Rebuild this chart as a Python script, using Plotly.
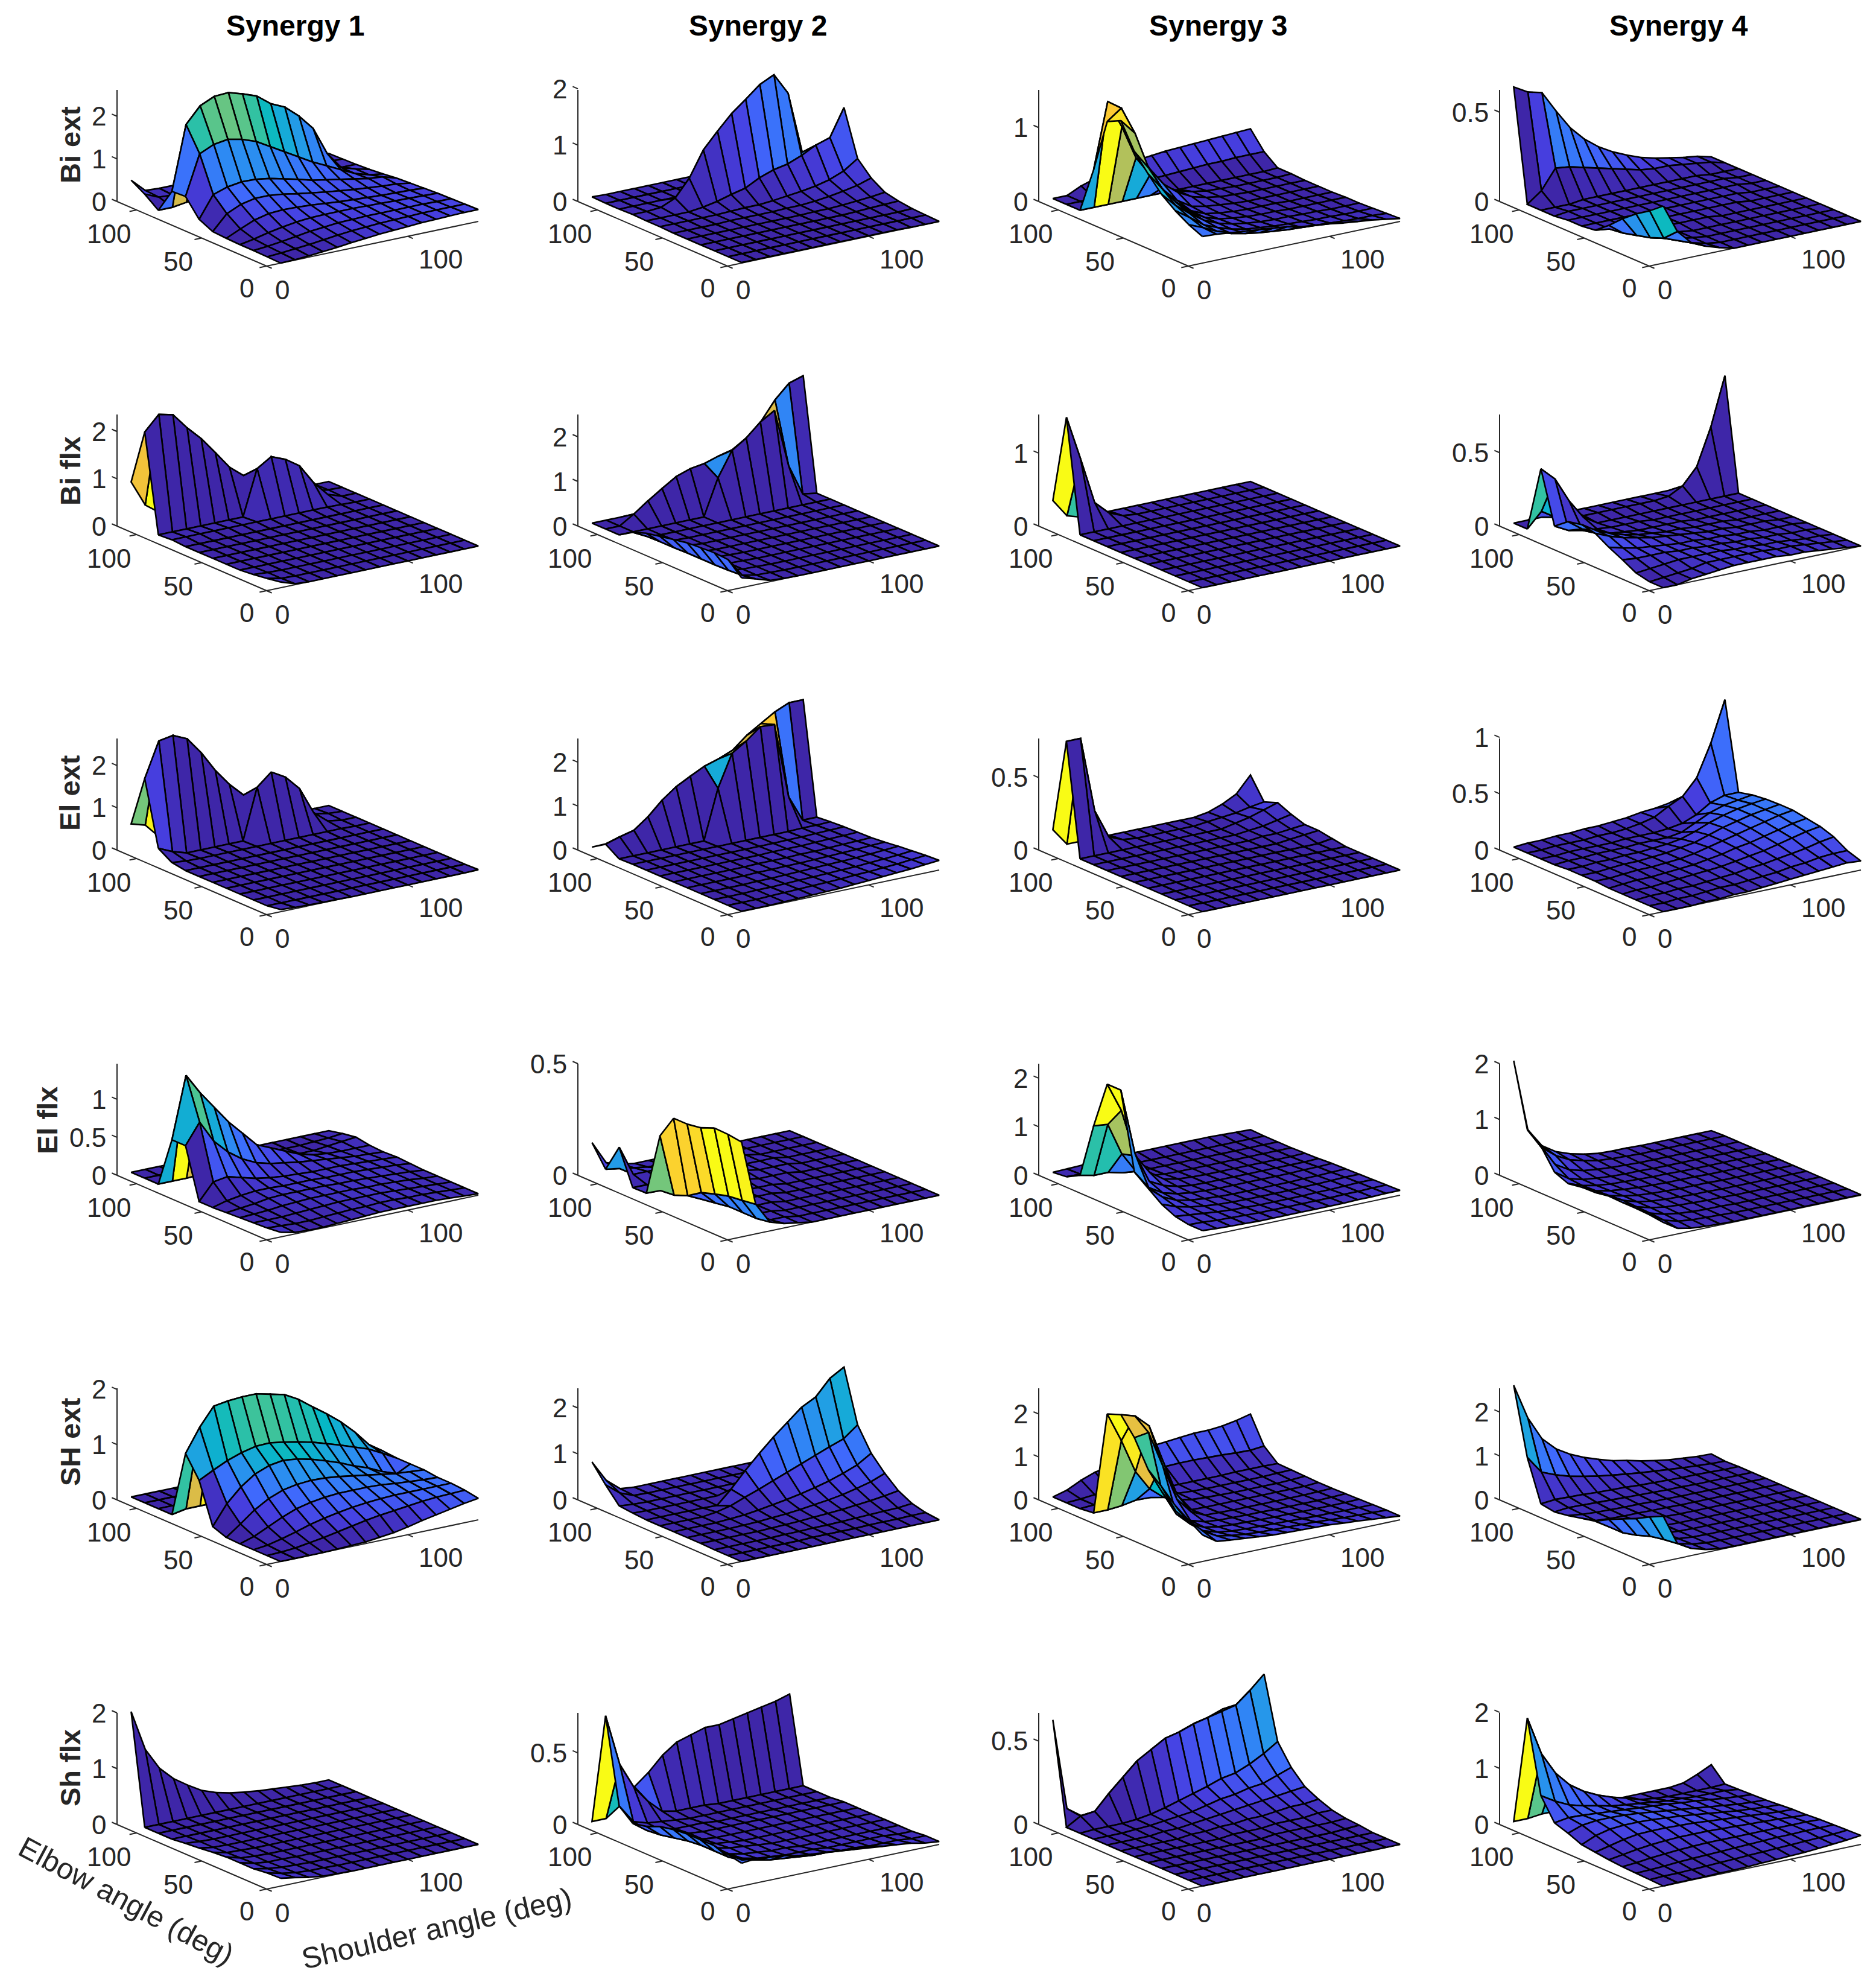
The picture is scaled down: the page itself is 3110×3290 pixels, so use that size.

import numpy as np, plotly.graph_objects as go
from plotly.colors import sample_colorscale
PAGE_MARGIN=8
W,H=3110-PAGE_MARGIN,3290-PAGE_MARGIN
shoulder=[10*(i+1) for i in range(15)]
elbow=[115*j/11 for j in range(12)]
O=[0]*15
z11=[[0,.01,.03,.06,.09,.13,.16,.19,.21,.23,.25,.26,.27,.28,.28],[.01,.03,.06,.09,.13,.17,.2,.22,.24,.25,.26,.27,.27,.27,.27],[.02,.05,.09,.14,.19,.22,.25,.26,.27,.27,.27,.27,.27,.26,.26],[.02,.08,.16,.22,.27,.3,.31,.31,.31,.3,.29,.28,.27,.26,.25],[.03,.18,.32,.4,.42,.41,.39,.36,.33,.31,.29,.27,.26,.25,.23],[.05,.4,.55,.62,.62,.58,.52,.47,.42,.38,.34,.31,.28,.26,.21],[.2,.71,.82,.87,.86,.81,.73,.65,.56,.5,.44,.38,.32,.29,.19],[.6,1.53,1.68,1.73,1.66,1.54,1.35,1.16,.97,.78,.62,.46,.3,.2,.15],[.58,2.08,2.45,2.6,2.62,2.52,2.4,2.15,2.0,1.72,1.36,.7,.3,.2,.12],[0,0,.05,.08,.08,.08,.08,.08,.08,.09,.1,.1,.1,.1,.1],[.24,.1,.08,.08,.09,.09,.09,.09,.09,.09,.09,.09,.09,.09,.09],[.43,.12,.1,.1,.1,.1,.1,.1,.1,.09,.09,.09,.09,.09,.08]]
z12=[[.01,.01,.01,.01,.01,.01,.01,.01,.01,.01,.01,.01,0,0,0],[.01,.01,.01,.01,.01,.01,.01,.01,.01,.01,.01,.01,.01,.01,.01],[.01,.01,.01,.01,.01,.01,.01,.01,.01,.01,.01,.01,.01,.01,.02],[.01,.01,.01,.01,.01,.01,.01,.01,.01,.01,.01,.02,.03,.04,.05],[.01,.01,.01,.01,.01,.01,.01,.01,.01,.02,.02,.03,.05,.07,.1],[.01,.01,.01,.01,.02,.02,.02,.02,.03,.03,.05,.08,.12,.17,.25],[.02,.02,.02,.02,.02,.03,.04,.04,.06,.09,.12,.16,.22,.32,.49],[.02,.02,.02,.02,.05,.1,.17,.23,.36,.45,.5,.6,.73,.81,1.29],[.03,.03,.05,.16,.46,.91,1.19,1.45,1.65,1.86,1.98,1.6,.5,.05,.02],[.02]*15,[.02]*15,[.03,.02,.02,.02,.02,.02,.02,.02,.02,.02,.02,.02,.02,.02,.02]]
z13=[[.36,.35,.33,.31,.29,.27,.25,.21,.19,.17,.14,.12,.1,.07,.04],[.44,.36,.27,.2,.16,.13,.11,.09,.08,.07,.06,.05,.04,.04,.03],[.55,.42,.28,.2,.14,.1,.08,.06,.05,.04,.03,.03,.02,.02,.02],[.69,.5,.35,.22,.14,.09,.06,.04,.03,.03,.02,.02,.01,.01,.01],[.89,.65,.42,.25,.14,.08,.05,.03,.02,.02,.01,.01,.01,.01,.01],[1.11,.85,.52,.3,.15,.07,.04,.02,.01,.01,.01,0,0,0,0],[1.45,1.24,.65,.39,.21,.09,.05,.03,.01,0,0,0,0,0,0],[1.36,1.5,.95,.6,.35,.2,.1,.05,.02,.01,0,0,0,0,0],[.63,1.51,1.13,.67,.4,.2,.1,.05,.02,.01,0,0,0,0,.01],[0,0,0,0,0,0,0,0,0,0,0,0,0,0,.01],[0,0,0,.03,.06,.09,.1,.11,.12,.13,.14,.14,.15,.15,.15],[0,0,.09,.15,.2,.24,.28,.3,.32,.33,.34,.35,.36,.37,.38]]
z14=[[.32,.16,.08,.045,.02,0,0,0,0,0,0,0,0,0,0],[.26,.09,.06,.03,.01,0,0,0,0,0,0,0,0,0,0],[.21,.06,.04,.02,.01,0,0,0,0,0,0,0,0,0,0],[.15,.04,.02,.01,.01,0,0,0,0,0,0,0,0,0,0],[.08,.02,.01,.01,.01,.01,.01,.01,0,0,0,0,0,0,0],[.02,.01,.01,.01,.01,.01,.01,.01,.01,.01,.01,0,0,0,0],[.01,.01,.01,.01,.01,.01,.01,.01,.01,.01,.01,.01,0,0,0],[.01,.01,.01,.01,.01,.01,.01,.01,.01,.01,.01,.01,.01,0,0],[0,.01,.01,.01,.01,.01,.01,.01,.01,.01,.01,.01,.01,0,0],[0,0,0,.01,.01,.01,.01,.01,.01,.01,.01,.01,0,0,0],[0,.06,.17,.16,.14,.12,.1,.08,.06,.05,.05,.04,.03,.02,0],[.625,.58,.56,.44,.33,.25,.19,.145,.11,.08,.06,.045,.03,.02,0]]
z21=[[.12,.02,0,0,0,0,0,0,0,0,0,0,0,0,0],[.07,.01,0,0,0,0,0,0,0,0,0,0,0,0,0],[.03,.01,0,0,0,0,0,0,0,0,0,0,0,0,0],O,O,O,O,O,[.02,.02,.02,.02,.02,.02,.02,.02,.02,.02,.02,.02,.01,0,0],[0,0,0,0,0,0,0,.96,1.15,1.03,.83,.41,.1,0,0],[2.05,2.36,2.29,1.95,1.66,1.3,.93,.69,.55,.45,.3,.15,.05,.01,0],[.87,.32,.1,.05,.02,0,0,0,0,0,0,0,0,0,0]]
z22=[[.22,.13,.03,.01,0,0,0,0,0,0,0,0,0,0,0],[.5,.08,.02,.01,0,0,0,0,0,0,0,0,0,0,0],[.52,.06,.02,.01,0,0,0,0,0,0,0,0,0,0,0],[.5,.05,.02,.01,0,0,0,0,0,0,0,0,0,0,0],[.48,.05,.02,.01,0,0,0,0,0,0,0,0,0,0,0],[.42,.05,.02,0,0,0,0,0,0,0,0,0,0,0,0],[.36,.04,.02,0,0,0,0,0,0,0,0,0,0,0,0],[.3,.04,.01,0,0,0,0,0,0,0,0,0,0,0,0],[.19,.03,0,0,0,0,0,0,0,0,0,0,0,0,0],[0,0,0,0,0,0,0,.81,1.36,1.57,1.86,2.05,.75,.05,0],[0,0,.2,.43,.64,.84,.95,1.0,1.1,1.18,1.37,1.67,2.09,2.4,2.5],O]
z23=[O,O,O,O,O,O,O,O,O,O,[1.53,.92,.28,.1,.02,0,0,0,0,0,0,0,0,0,0],[.31,.06,0,0,0,0,0,0,0,0,0,0,0,0,0]]
z24=[[0,0,.02,.03,.04,.05,.05,.05,.05,.04,.04,.03,.02,.01,0],[0,.01,.02,.03,.05,.05,.05,.05,.05,.04,.04,.03,.02,.01,0],[.02,.03,.04,.05,.05,.05,.05,.04,.04,.03,.03,.02,.01,.01,0],[.07,.06,.06,.06,.05,.05,.04,.04,.03,.03,.02,.02,.01,.01,0],[.115,.09,.07,.06,.05,.04,.04,.03,.03,.02,.02,.01,.01,.01,0],[.17,.13,.1,.08,.06,.05,.04,.03,.02,.02,.01,.01,.01,0,0],[.19,.13,.09,.06,.04,.03,.02,.02,.01,.01,.01,0,0,0,0],[.17,.1,.05,.03,.02,.01,.01,.01,.01,0,0,0,0,0,0],[.1,.05,.03,.02,.01,.01,.01,0,0,0,0,0,0,0,0],[.45,.36,.19,.06,0,0,0,0,0,0,0,0,0,0,0],[0,.1,.04,.02,.01,.01,.01,.01,.01,.01,.02,.07,.18,.43,.76],[0,0,0,0,0,0,0,0,0,0,0,0,0,0,0]]
z31=[[.05,.03,.02,.01,.01,0,0,0,0,0,0,0,0,0,.01],O,O,O,O,O,O,[0,0,0,0,0,0,0,0,0,0,0,0,0,0,0],[.05,.02,.01,.01,.01,.01,.01,.01,.01,.01,.01,.01,.01,0,0],[.25,.1,0,0,0,0,0,1.2,1.49,1.3,.96,.32,.05,0,0],[1.76,2.58,2.64,2.49,2.09,1.6,1.2,.88,.7,.55,.35,.2,.08,.02,0],[.55,.45,.1,.03,.01,0,0,0,0,0,0,0,0,0,0]]
z32=[[.01,.01,.01,.02,.03,.04,.05,.06,.08,.1,.12,.14,.16,.19,.22],[.01,.01,.01,.02,.03,.04,.05,.06,.07,.09,.1,.12,.14,.17,.2],[.01,.01,.01,.02,.02,.03,.04,.05,.06,.07,.08,.1,.12,.14,.17],[.01,.01,.01,.01,.02,.02,.03,.04,.05,.06,.07,.08,.1,.12,.14],[.01,.01,.01,.01,.01,.02,.02,.03,.03,.04,.05,.06,.07,.09,.1],[.01,.01,.01,.01,.01,.01,.02,.02,.02,.03,.03,.04,.05,.06,.07],[.01,.01,.01,.01,.01,.01,.01,.01,.02,.02,.02,.03,.04,.05,.06],[.01,.01,.01,.01,.01,.01,.01,.01,.01,.01,.02,.02,.03,.04,.05],[.01,.01,.01,.01,.01,.01,.01,.01,.01,.01,.01,.01,.02,.02,.03],[0,0,0,0,0,0,0,1.13,1.86,2.07,2.33,2.31,.6,0,0],[.2,.3,.38,.62,.93,1.17,1.34,1.5,1.6,1.73,2.0,2.2,2.4,2.54,2.54],[0,.01,.01,.01,0,0,0,0,0,0,0,0,0,0,0]]
z33=[O,O,O,O,O,[0,0,0,0,0,0,0,0,0,0,0,0,0,0,.015],[0,0,0,0,0,0,0,0,0,0,0,0,.01,.02,.03],[0,0,0,0,0,0,0,0,0,0,0,.01,.01,.02,.03],[0,0,0,0,0,0,0,0,0,0,0,.01,.02,.04,.06],[0,0,0,0,0,0,0,0,0,0,0,.02,.04,.07,.1],[.77,.77,.25,.05,.01,0,0,0,0,0,.01,.02,.03,.05,.065],[.12,0,0,0,0,0,0,0,0,0,0,.015,.05,.1,.21]]
z34=[[0,0,0,.01,.01,.02,.02,.03,.04,.05,.06,.07,.08,.09,.08],[0,0,.01,.01,.02,.03,.03,.04,.05,.06,.08,.09,.11,.12,.12],[0,.01,.01,.02,.02,.03,.04,.05,.07,.08,.1,.12,.14,.17,.19],[0,.01,.01,.02,.03,.04,.05,.06,.08,.1,.12,.15,.18,.21,.23],[0,.01,.02,.02,.03,.04,.05,.07,.09,.12,.14,.17,.2,.23,.25],[.01,.01,.02,.03,.03,.04,.05,.07,.1,.13,.16,.19,.22,.25,.27],[.01,.01,.02,.03,.03,.04,.05,.07,.09,.13,.17,.2,.23,.25,.27],[.01,.01,.02,.02,.03,.03,.04,.05,.07,.11,.16,.2,.23,.25,.265],[0,.01,.01,.02,.02,.02,.03,.03,.03,.05,.11,.17,.21,.23,.25],[0,0,.01,.01,.01,.01,.02,.02,.02,.03,.05,.1,.18,.22,.22],[0,0,.01,.01,.01,.02,.02,.03,.05,.08,.15,.21,.35,.63,.99],[0,.01,.01,.02,.02,.03,.03,.04,.05,.07,.08,.1,.13,.22,.28]]
z41=[[.06,.02,.01,.01,.02,.03,.04,.05,.05,.05,.05,.05,.04,.03,.02],[.04,.03,.02,.02,.03,.04,.05,.05,.06,.06,.05,.05,.04,.03,.02],[.03,.03,.03,.04,.05,.06,.07,.07,.07,.07,.06,.05,.04,.03,.02],[.02,.03,.04,.06,.07,.08,.08,.08,.08,.07,.07,.06,.05,.03,.02],[.01,.03,.05,.08,.09,.09,.09,.09,.08,.08,.07,.06,.05,.04,.02],[0,.05,.08,.1,.1,.09,.09,.09,.08,.08,.08,.07,.06,.05,.03],[0,.22,.25,.2,.15,.12,.1,.09,.08,.08,.08,.07,.06,.05,.04],[.66,.93,.64,.46,.33,.24,.19,.16,.13,.11,.09,.07,.05,.04,.03],[.66,1.47,1.2,.97,.74,.55,.36,.28,.2,.12,.07,.05,.04,.04,.04],[0,0,0,.01,.01,.01,.01,.01,.01,.01,.01,.01,.03,.05,.07],[0,0,0,0,0,0,0,0,0,0,0,0,.01,.02,.04],[0,0,0,0,0,0,0,0,0,0,0,0,0,0,0]]
z42=[[.425,.133,.04,.02,.01,0,0,0,0,0,0,0,0,0,0],[.433,.124,.03,.01,.01,0,0,0,0,0,0,0,0,0,0],[.435,.117,.03,.01,.01,0,0,0,0,0,0,0,0,0,0],[.41,.1,.03,.01,.01,.01,0,0,0,0,0,0,0,0,0],[.4,.08,.02,.01,.01,.01,.01,0,0,0,0,0,0,0,0],[.4,.04,.01,.01,.01,.01,.01,.01,0,0,0,0,0,0,0],[.295,.016,.01,.01,.02,.02,.02,.01,.01,.01,0,0,0,0,0],[.012,.01,.01,.02,.03,.03,.03,.02,.01,.01,.01,0,0,0,0],[.01,.01,.02,.03,.04,.04,.03,.02,.01,.01,.01,0,0,0,0],[.165,.03,.03,.03,.03,.03,.02,.01,.01,.01,0,0,0,0,0],[.04,.03,.02,.01,.01,.01,.01,.01,0,0,0,0,0,0,0],[.133,.03,.01,0,0,0,0,0,0,0,0,0,0,0,0]]
z43=[[.13,.11,.1,.09,.08,.08,.08,.08,.08,.08,.08,.09,.09,.1,.1],[.13,.12,.1,.09,.08,.07,.07,.07,.07,.07,.07,.08,.08,.09,.09],[.18,.15,.12,.09,.07,.06,.05,.05,.05,.05,.06,.06,.07,.08,.08],[.31,.2,.13,.09,.06,.05,.04,.04,.04,.04,.05,.05,.06,.07,.07],[.52,.28,.15,.09,.06,.04,.03,.03,.03,.03,.03,.04,.04,.05,.06],[.73,.35,.18,.1,.06,.04,.03,.03,.03,.03,.03,.03,.04,.04,.05],[2.3,.93,.3,.15,.07,.03,.02,.02,.02,.02,.02,.02,.02,.02,.03],[2.3,1.7,.7,.3,.1,.04,.02,.01,.01,.01,.01,.01,.01,.01,.02],[1.32,1.29,.62,.2,.05,.02,.01,.01,.01,.01,.01,.01,.01,.01,.01],[.18,.12,.12,.05,.02,.01,.01,.01,.01,.01,.01,.01,.01,.01,.01],[.03,.02,.02,.01,.01,.01,.01,.01,.01,.01,.01,.01,.01,.01,.01],[0,.01,.02,.03,.04,.05,.05,.05,.05,.05,.05,.05,.04,.03,.02]]
z44=[[.26,.1,.05,.03,.02,.01,.01,.01,.01,.01,.01,.01,.01,.01,.01],[.29,.14,.07,.04,.03,.02,.01,.01,.01,.01,.01,.01,.01,.01,.01],[.3,.16,.09,.05,.03,.02,.02,.01,.01,.01,.01,.01,.01,.01,.01],[.3,.17,.1,.06,.04,.03,.02,.02,.01,.01,.01,.01,.01,.01,.01],[.31,.18,.1,.06,.04,.03,.02,.02,.01,.01,.01,.01,.01,.01,.01],[.27,.16,.1,.06,.04,.03,.02,.02,.02,.01,.01,.01,.01,.01,.01],[.26,.14,.09,.06,.04,.03,.02,.02,.02,.01,.01,.01,.01,.01,.01],[.22,.13,.08,.05,.04,.03,.02,.02,.01,.01,.01,.01,.01,.01,.01],[.32,.15,.08,.05,.03,.02,.02,.01,.01,.01,.01,.01,.01,.01,.01],[.68,.3,.15,.08,.05,.03,.02,.01,.01,.01,.01,.01,.01,.01,.01],[.87,.5,.3,.17,.1,.05,.03,.02,.01,.01,.01,.01,.01,.01,.01],[2.0,.71,.37,.21,.12,.06,.02,.01,.01,0,0,0,0,0,0]]
z51=[[0,0,0,0,.01,.02,.03,.06,.09,.14,.2,.25,.3,.35,.39],[0,.01,.03,.07,.11,.16,.21,.26,.3,.33,.36,.39,.41,.42,.43],[0,.03,.09,.16,.24,.3,.35,.39,.42,.44,.45,.45,.45,.45,.45],[0,.08,.2,.32,.42,.48,.52,.54,.54,.54,.53,.5,.48,.46,.45],[.01,.2,.4,.55,.65,.7,.72,.71,.68,.64,.6,.56,.52,.5,.48],[.1,.46,.71,.89,.99,1.03,1.0,.94,.86,.77,.66,.57,.45,.35,.48],[.83,.96,1.08,1.17,1.23,1.24,1.2,1.15,1.09,1.01,.93,.84,.75,.62,.48],[1.21,1.63,1.96,2.0,2.02,2.02,1.96,1.9,1.76,1.57,1.39,1.19,.95,.67,.5],[0,.05,.05,.05,.05,.05,.05,.05,.05,.05,.05,.05,.05,.05,.05],[0]*15,[0]*15,[0]*15]
z52=[[0]*15,[0,0,0,0,0,0,.01,.01,.01,.01,.02,.02,.02,.03,.03],[0,0,0,0,0,.01,.01,.02,.02,.03,.04,.05,.06,.07,.1],[.01,.01,.01,.01,.01,.02,.03,.04,.06,.08,.1,.13,.16,.2,.25],[.01,.01,.01,.01,.02,.03,.05,.07,.1,.14,.18,.23,.3,.38,.5],[.01,.01,.01,.01,.03,.05,.09,.14,.19,.25,.32,.4,.5,.62,.81],[.01,.01,.01,.01,.05,.12,.24,.35,.47,.59,.71,.83,.95,1.06,1.3],[.01,.01,.01,.01,.01,0,.29,.63,.94,1.23,1.49,1.75,1.91,2.25,2.43],[.03,.02,.02,.02,.02,.02,.02,.02,.02,.02,.02,.02,.02,.02,.02],[.06,.03,.02,.02,.02,.02,.02,.02,.02,.02,.02,.02,.02,.02,.02],[.39,.15,.03,.02,.02,.02,.02,.02,.02,.02,.02,.02,.02,.02,.02],[.76,.3,.05,.02,.02,.02,.02,.02,.02,.02,.02,.02,.02,.02,.02]]
z53=[[.62,.4,.36,.33,.3,.27,.26,.25,.24,.23,.2,.18,.15,.12,.09],[.82,.5,.32,.26,.22,.2,.19,.18,.17,.16,.14,.12,.11,.1,.09],[1.03,.55,.3,.2,.16,.14,.13,.12,.11,.1,.09,.09,.08,.08,.08],[1.33,.7,.33,.18,.12,.1,.09,.08,.07,.07,.06,.06,.06,.06,.07],[1.6,1.0,.42,.2,.1,.07,.06,.05,.05,.04,.04,.04,.04,.05,.06],[2.2,2.25,1.41,.56,.2,.05,.04,.03,.03,.03,.03,.03,.03,.04,.05],[2.6,2.5,2.2,1.3,.45,.04,.03,.03,.03,.03,.03,.03,.03,.03,.05],[2.48,1.79,1.0,.53,.26,.13,.07,.05,.04,.03,.03,.03,.03,.04,.06],[.04,.04,.07,.13,.12,.1,.08,.06,.05,.05,.05,.05,.05,.06,.07],[0,.02,.02,.03,.04,.06,.07,.08,.08,.08,.08,.09,.09,.09,.08],[0,.02,.05,.1,.17,.25,.32,.36,.37,.37,.36,.35,.33,.32,.35],[0,.09,.25,.37,.44,.55,.65,.7,.73,.76,.79,.79,.82,.88,.96]]
z54=[[1.03,.34,.16,.07,.02,.01,.01,.01,.01,.01,.01,.01,.01,.01,.01],[.88,.3,.14,.06,.02,.01,.01,.01,.01,.01,.01,.01,.01,.01,.01],[.71,.24,.11,.05,.02,.01,.01,.01,.01,.01,.01,.01,.01,.01,.01],[.57,.13,.07,.04,.02,.01,.01,.01,.01,.01,.01,.01,.01,.01,.01],[.42,.05,.04,.03,.02,.01,.01,.01,.01,.01,.01,.01,.01,.01,.01],[.25,.05,.03,.03,.02,.02,.01,.01,.01,.01,.01,.01,.01,.01,.01],[.18,.06,.04,.03,.03,.02,.02,.01,.01,.01,.01,.01,.01,.01,.01],[.11,.07,.05,.04,.03,.03,.02,.02,.01,.01,.01,.01,.01,.01,.01],[.06,.09,.08,.07,.06,.05,.04,.03,.02,.02,.01,.01,.01,.01,.01],[.11,.14,.13,.12,.1,.09,.08,.06,.05,.04,.03,.03,.02,.01,.01],[1.03,.63,.5,.4,.33,.27,.22,.18,.14,.11,.08,.05,.03,.01,0],[2.54,1.73,1.19,.89,.7,.56,.45,.35,.29,.21,.15,.1,.07,.04,.03]]
z61=[[.14,.1,.05,.02,.01,0,0,0,0,0,0,0,0,0,0],[.13,.07,.03,.01,.01,0,0,0,0,0,0,0,0,0,0],[.1,.05,.02,.01,0,0,0,0,0,0,0,0,0,0,0],[.1,.04,.01,.01,0,0,0,0,0,0,0,0,0,0,0],[.1,.03,.01,0,0,0,0,0,0,0,0,0,0,0,0],[.08,.02,.01,0,0,0,0,0,0,0,0,0,0,0,0],[.05,.01,0,0,0,0,0,0,0,0,0,0,0,0,0],[.03,.01,0,0,0,0,0,0,0,0,0,0,0,0,0],O,O,O,[1.97,1.24,.85,.61,.44,.29,.2,.14,.1,.07,.05,.03,.01,0,0]]
z62=[[.16,.17,.16,.15,.13,.12,.11,.1,.09,.08,.07,.06,.05,.03,.02],[.18,.12,.1,.08,.07,.06,.05,.05,.04,.04,.03,.03,.03,.02,.02],[.2,.1,.07,.05,.04,.03,.03,.03,.02,.02,.02,.02,.02,.01,.01],[.2,.1,.06,.04,.03,.02,.02,.01,.01,.01,.01,.01,.01,.01,.01],[.2,.1,.06,.04,.03,.02,.01,.01,.01,.01,.01,.01,.01,.01,.01],[.19,.09,.05,.03,.02,.01,.01,.01,.01,.01,.01,.01,.01,.01,.01],[.17,.07,.04,.02,.01,.01,.01,.01,.01,.01,.01,.01,.01,.01,.01],[.13,.05,.03,.02,.01,.01,.01,.01,.01,.01,.01,.01,.01,.01,.01],[.11,.04,.02,.01,.01,.01,0,0,0,0,0,0,0,0,0],[.19,.06,.03,.02,.01,0,0,0,0,0,0,0,0,0,0],[.78,.42,.24,.12,.03,.01,.01,.01,0,0,0,0,0,0,0],[0,0,.07,.18,.26,.36,.43,.46,.49,.49,.51,.53,.55,.57,.6]]
z63=[O,O,O,[0,0,0,0,0,0,0,0,0,0,0,0,0,.005,.01],[0,0,0,0,0,0,0,0,0,.01,.01,.01,.01,.01,.015],[0,0,0,0,0,0,0,.01,.01,.01,.02,.02,.02,.03,.03],[0,0,0,0,0,.01,.01,.02,.02,.03,.03,.04,.05,.05,.06],[0,0,0,0,.01,.01,.02,.03,.04,.05,.06,.07,.08,.09,.1],[0,0,0,.005,.01,.02,.03,.04,.06,.08,.09,.11,.12,.15,.18],[0,.005,.005,.005,.012,.025,.045,.07,.095,.12,.15,.165,.2,.245,.3],[0,.05,.06,.15,.23,.31,.36,.41,.43,.46,.48,.5,.52,.59,.67],[.61,.06,0,0,.1,.18,.25,.31,.35,.38,.41,.43,.46,.47,.5]]
z64=[[0,.01,.01,.01,.02,.02,.03,.04,.05,.06,.07,.09,.11,.13,.16],[.01,.02,.02,.03,.04,.05,.06,.07,.08,.09,.1,.11,.12,.13,.15],[.02,.03,.04,.06,.07,.08,.09,.1,.11,.12,.13,.13,.14,.14,.14],[.03,.05,.08,.1,.12,.13,.14,.14,.14,.14,.14,.14,.14,.14,.13],[.05,.09,.13,.16,.18,.19,.19,.19,.18,.17,.16,.15,.14,.12,.11],[.08,.14,.2,.24,.25,.25,.24,.23,.21,.19,.17,.15,.13,.11,.1],[.11,.22,.28,.3,.3,.29,.27,.25,.22,.19,.16,.13,.11,.09,.08],[.21,.3,.33,.33,.32,.3,.27,.24,.21,.18,.15,.12,.09,.07,.06],[.29,.33,.32,.3,.28,.26,.24,.22,.2,.17,.15,.12,.09,.07,.05],[.67,.52,.4,.33,.28,.22,.19,.16,.13,.1,.09,.07,.07,.07,.04],[1.95,1.26,.86,.6,.43,.31,.22,.15,.07,.04,.02,.02,.02,.02,.03],[0,0,.03,.03,.03,.02,.02,.02,.02,.02,.02,.02,.05,.15,.27]]
panels=[[z11,z12,z13,z14],[z21,z22,z23,z24],[z31,z32,z33,z34],[z41,z42,z43,z44],[z51,z52,z53,z54],[z61,z62,z63,z64]]
zmaxs=[[2.62,1.98,1.51,.625],[2.36,2.5,1.53,.76],[2.64,2.54,.77,.99],[1.47,.5,2.3,2.0],[2.02,2.43,2.6,2.54],[2.0,.78,.67,1.99]]
zticks=[[[0,1,2],[0,1,2],[0,1],[0,.5]],[[0,1,2],[0,1,2],[0,1],[0,.5]],[[0,1,2],[0,1,2],[0,.5],[0,.5,1]],[[0,.5,1],[0,.5],[0,1,2],[0,1,2]],[[0,1,2],[0,1,2],[0,1,2],[0,1,2]],[[0,1,2],[0,.5],[0,.5],[0,1,2]]]
xticks=[0,100]; yticks=[0,50,100]
XMAX,YMAX=150,115
synergies=['Synergy 1','Synergy 2','Synergy 3','Synergy 4']
title_x=[489,1256,2019,2783]
muscles=['Bi ext','Bi flx','El ext','El flx','SH ext','Sh flx']
muscle_pos=[(116,240),(116,781),(116,1314),(78,1857),(116,2390),(116,2930)]
parula=[[0,'#3e26a8'],[.1,'#4740e2'],[.2,'#3f68fc'],[.3,'#2f86f5'],[.4,'#1fa2e2'],[.5,'#06b7c6'],[.6,'#35c3a0'],[.7,'#8dc76c'],[.8,'#d6bb4a'],[.9,'#fcc635'],[1,'#f9fb15']]
ox=[442-PAGE_MARGIN,1206-PAGE_MARGIN,1970-PAGE_MARGIN,2734-PAGE_MARGIN]; oy=[441-PAGE_MARGIN,979-PAGE_MARGIN,1516-PAGE_MARGIN,2055-PAGE_MARGIN,2593-PAGE_MARGIN,3131-PAGE_MARGIN]
TXT='#262626'; FONT='Liberation Sans'
VX=(351,74); VY=(-248,107); VZ=185
def proj(x,y,z,r,c):
    x=np.asarray(x,float);y=np.asarray(y,float);z=np.asarray(z,float)
    fx,fy,fz=x/XMAX,y/YMAX,z/zmaxs[r][c]
    return ox[c]+VX[0]*fx+VY[0]*fy, oy[r]-(VX[1]*fx+VY[1]*fy+VZ*fz)
fig=go.Figure()
ann=[]
def add_run(xs,ys,color):
    fig.add_trace(go.Scatter(x=xs,y=ys,mode='lines',fill='toself',fillcolor=color,line=dict(color='black',width=2.6),hoverinfo='skip',showlegend=False))
for r in range(6):
  for c in range(4):
    lxs,lys=[],[]
    a,b=proj([0,XMAX],[0,0],[0,0],r,c); lxs+=list(a)+[None]; lys+=list(b)+[None]
    a,b=proj([0,0],[0,YMAX],[0,0],r,c); lxs+=list(a)+[None]; lys+=list(b)+[None]
    a,b=proj([0,0],[YMAX,YMAX],[0,zmaxs[r][c]],r,c); lxs+=list(a)+[None]; lys+=list(b)+[None]
    for tv in xticks:
        a,b=proj([tv,tv],[0,-4],[0,0],r,c); lxs+=list(a)+[None]; lys+=list(b)+[None]
    for tv,dx,dy in zip(xticks,[26,54],[39,38]):
        a,b=proj(tv,0,0,r,c); ann.append(dict(x=float(a)+dx,y=float(b)+dy,text=str(tv),size=44))
    for tv in yticks:
        a,b=proj([0,-5],[tv,tv],[0,0],r,c); lxs+=list(a)+[None]; lys+=list(b)+[None]
    for tv,dx,dy in zip(yticks,[-33,-39,-46],[36,39,40]):
        a,b=proj(0,tv,0,r,c); ann.append(dict(x=float(a)+dx,y=float(b)+dy,text=str(tv),size=44))
    for tv in zticks[r][c]:
        a,b=proj([0,0],[YMAX,YMAX+4],[tv,tv],r,c); lxs+=list(a)+[None]; lys+=list(b)+[None]
        a,b=proj(0,YMAX,tv,r,c); ann.append(dict(x=float(a)-16,y=float(b),text=('%g'%tv),size=44,anchor='right'))
    fig.add_trace(go.Scatter(x=lxs,y=lys,mode='lines',line=dict(color=TXT,width=2),hoverinfo='skip',showlegend=False))
    z=np.array(panels[r][c],float); cmax=z.max()
    X,Y=np.meshgrid(shoulder,elbow)
    PX,PY=proj(X,Y,z,r,c)
    runs=[];cur=None;cx=[];cy=[]
    for j in range(10,-1,-1):
      for i in range(13,-1,-1):
        idx=[(j,i),(j,i+1),(j+1,i+1),(j+1,i)]
        vals=[z[q] for q in idx]
        t=round(z[j,i]/cmax*64)/64
        flat=(max(vals)-min(vals))/zmaxs[r][c]*VZ<8
        poly_x=[float(PX[q]) for q in idx]+[float(PX[idx[0]])]
        poly_y=[float(PY[q]) for q in idx]+[float(PY[idx[0]])]
        if cur is not None and flat and cur==t:
            cx+=[None]+poly_x; cy+=[None]+poly_y
        else:
            if cur is not None: runs.append((cx,cy,cur))
            cur=t if flat else -1-t
            cx=poly_x;cy=poly_y
            if not flat:
                runs.append((cx,cy,cur)); cur=None
    if cur is not None: runs.append((cx,cy,cur))
    for a,b,t in runs:
        tt=t if t>=0 else -1-t
        add_run(a,b,sample_colorscale(parula,[tt])[0])
annots=[]
def pap(xp,yp):
    return dict(x=(xp-PAGE_MARGIN)/W,y=1-(yp-PAGE_MARGIN)/H,xref='paper',yref='paper',xanchor='center',yanchor='middle',showarrow=False)
for d in ann:
    annots.append(dict(x=d['x'],y=d['y'],xref='x',yref='y',text=d['text'],showarrow=False,xanchor=d.get('anchor','center'),yanchor='middle',font=dict(size=d['size'],color=TXT,family=FONT)))
for t,xp in zip(synergies,title_x):
    annots.append(dict(pap(xp,42),text='<b>%s</b>'%t,font=dict(size=48,color='black',family=FONT)))
for t,(xp,yp) in zip(muscles,muscle_pos):
    annots.append(dict(pap(xp,yp),text='<b>%s</b>'%t,textangle=-90,font=dict(size=47,color=TXT,family=FONT)))
annots.append(dict(pap(209,3150),text='Elbow angle (deg)',textangle=28,font=dict(size=49,color=TXT,family=FONT)))
annots.append(dict(pap(724,3196),text='Shoulder angle (deg)',textangle=-13,font=dict(size=49,color=TXT,family=FONT)))
fig.update_layout(width=W,height=H,margin=dict(l=0,r=0,t=0,b=0),paper_bgcolor='white',plot_bgcolor='white',showlegend=False,annotations=annots,
    xaxis=dict(range=[0,W],visible=False,domain=[0,1]),yaxis=dict(range=[H,0],visible=False,domain=[0,1]))
fig.write_html('out.html')
